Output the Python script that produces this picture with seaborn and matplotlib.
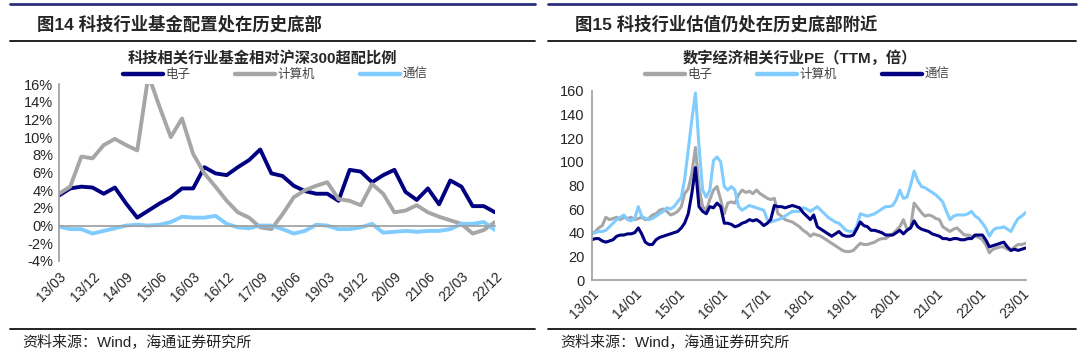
import numpy as np
import pandas as pd
import seaborn as sns
import matplotlib.pyplot as plt
from matplotlib.lines import Line2D

# ---- data: left chart (quarterly, 13/03 .. 22/12)
quarters = pd.period_range("2013Q1", "2022Q4", freq="Q")
q_labels = [f"{p.year % 100:02d}/{p.quarter * 3:02d}" for p in quarters]
elec_over = [3.4, 4.2, 4.4, 4.3, 3.6, 4.3, 2.5, 0.9, 1.7, 2.5,
             3.2, 4.2, 4.2, 6.6, 5.9, 5.7, 6.6, 7.4, 8.6, 5.9,
             5.6, 4.5, 3.9, 3.6, 3.6, 2.8, 6.3, 6.1, 4.9, 5.7,
             6.3, 3.8, 2.9, 4.2, 2.4, 5.1, 4.4, 2.2, 2.2, 1.5]
comp_over = [3.6, 4.4, 7.8, 7.6, 9.1, 9.8, 9.1, 8.5, 17.0, 13.4,
             10.0, 12.1, 8.1, 5.9, 4.4, 2.8, 1.5, 0.9, -0.2, -0.4,
             1.3, 3.2, 4.0, 4.5, 4.9, 3.0, 2.8, 2.3, 4.7, 3.6,
             1.5, 1.7, 2.3, 1.5, 1.0, 0.6, 0.2, -0.9, -0.5, 0.4]
tele_over = [-0.1, -0.4, -0.4, -0.9, -0.6, -0.3, 0.0, 0.1, 0.0, 0.1,
             0.4, 1.0, 0.9, 0.9, 1.1, 0.2, -0.2, -0.3, 0.0, 0.0,
             -0.4, -0.9, -0.6, 0.1, 0.0, -0.4, -0.4, -0.2, 0.2, -0.8,
             -0.7, -0.6, -0.7, -0.6, -0.6, -0.4, 0.2, 0.2, 0.4, -0.5]

# ---- data: right chart (monthly PE TTM, 2013-01 .. 2023-02)
months = pd.date_range("2013-01-01", periods=122, freq="MS")
elec_pe = [39, 41, 44, 46, 53, 51, 52, 53, 51, 53, 52, 53, 51, 52, 53, 51, 52, 55, 56, 59,
           60, 58, 55, 56, 58, 62, 73, 77, 90, 112, 78, 62, 59, 68, 76, 79, 68, 56, 65, 66,
           65, 72, 76, 74, 75, 73, 76, 73, 71, 69, 68, 69, 56, 54, 51, 50, 49, 47, 45, 42,
           40, 37, 39, 38, 37, 35, 33, 31, 29, 27, 25, 24, 24, 25, 28, 31, 30, 30, 31, 32,
           34, 35, 35, 37, 39, 42, 45, 51, 43, 44, 65, 61, 57, 54, 55, 54, 52, 51, 45, 43,
           41, 43, 44, 41, 38, 38, 37, 37, 36, 34, 30, 23, 26, 27, 28, 28, 26, 25, 28, 30,
           30, 31]
comp_pe = [39, 40, 41, 41, 42, 45, 48, 51, 53, 55, 51, 50, 52, 62, 54, 52, 51, 52, 54, 56,
           58, 61, 60, 62, 66, 70, 85, 110, 135, 158, 113, 76, 70, 76, 101, 104, 100, 79, 76, 79,
           76, 62, 59, 61, 63, 62, 61, 60, 59, 51, 49, 50, 51, 52, 54, 56, 58, 58, 58, 61,
           60, 58, 60, 62, 59, 56, 53, 51, 49, 48, 45, 42, 41, 41, 45, 56, 55, 54, 55, 56,
           58, 60, 62, 62, 63, 68, 76, 69, 70, 80, 92, 84, 79, 78, 76, 74, 72, 69, 66, 58,
           51, 54, 55, 55, 55, 56, 58, 54, 52, 48, 44, 37, 42, 44, 44, 45, 43, 41, 47, 52,
           54, 57]
tele_pe = [34, 35, 35, 33, 32, 33, 34, 37, 38, 38, 39, 39, 40, 44, 39, 32, 30, 30, 34, 36,
           37, 38, 39, 40, 41, 44, 48, 56, 73, 95, 62, 58, 56, 62, 61, 65, 62, 48, 48, 47,
           45, 46, 48, 49, 51, 50, 51, 49, 46, 48, 51, 63, 62, 62, 61, 62, 63, 62, 61, 57,
           54, 51, 55, 45, 43, 41, 39, 37, 39, 41, 38, 37, 37, 38, 43, 49, 46, 45, 42, 42,
           41, 40, 38, 38, 38, 40, 42, 39, 42, 44, 50, 45, 43, 42, 41, 39, 38, 37, 35, 35,
           34, 35, 35, 34, 34, 35, 35, 38, 38, 38, 34, 28, 29, 30, 31, 32, 28, 25, 26, 25,
           26, 27]

series = ["电子", "计算机", "通信"]
NAVY, GREY, LBLUE = "#000080", "#A6A6A6", "#80CCFF"
AXC = "#A0A0A0"

sns.set_theme(style="white")
plt.rcParams["font.family"] = ["Liberation Sans", "Noto Sans CJK SC", "DejaVu Sans"]

W, H = 1080, 359
fig = plt.figure(figsize=(W / 100, H / 100), dpi=100)


def fx(px):
    return px / W


def fy(py):
    return 1 - py / H


def hline(x0, x1, y, color, lw):
    fig.add_artist(Line2D([fx(x0), fx(x1)], [fy(y), fy(y)], color=color, lw=lw,
                          transform=fig.transFigure))


# frames / headers for both panels
for x0, x1, head, sub, cx in [(10, 535, "图14 科技行业基金配置处在历史底部",
                               "科技相关行业基金相对沪深300超配比例", 262),
                              (548, 1076, "图15 科技行业估值仍处在历史底部附近",
                               "数字经济相关行业PE（TTM，倍）", 800)]:
    hline(x0, x1, 4, "#2B2F7E", 2.0)
    hline(x0, x1, 41, "#111111", 1.3)
    hline(x0, x1, 329, "#111111", 1.3)
    fig.text(fx(x0 + 27), fy(24), head, fontsize=12.5, fontweight="bold", va="center", ha="left")
    fig.text(fx(cx), fy(58), sub, fontsize=11, fontweight="bold", va="center", ha="center")
    fig.text(fx(x0 + 12), fy(343), "资料来源：Wind，海通证券研究所", fontsize=10.8,
             va="center", ha="left", color="#222222")

# ---- left chart
axl = fig.add_axes([fx(59), fy(261), (495 - 59) / W, (261 - 84) / H])
dfl = pd.DataFrame({"q": list(range(len(quarters))) * 3,
                    "val": elec_over + comp_over + tele_over,
                    "s": [s for s in series for _ in quarters]})
sns.lineplot(data=dfl, x="q", y="val", hue="s", hue_order=series,
             palette=[NAVY, GREY, LBLUE], lw=2.8, ax=axl, legend=False)
axl.set_xlim(0, len(quarters) - 1)
axl.set_ylim(-4, 16)
axl.set_yticks(np.arange(-4, 17, 2))
axl.set_yticklabels([f"{v}%" for v in range(-4, 17, 2)])
axl.set_xlabel("")
axl.set_ylabel("")
for s in ["top", "right"]:
    axl.spines[s].set_visible(False)
axl.spines["left"].set_color(AXC)
axl.spines["bottom"].set_color(AXC)
axl.spines["bottom"].set_position(("data", 0))
axl.set_xticks(range(0, len(quarters), 3))
axl.tick_params(axis="x", direction="in", length=3, color=AXC, labelbottom=False)
axl.tick_params(axis="y", direction="out", length=3, color=AXC, labelsize=10.5, pad=1)
sec = axl.secondary_xaxis("bottom")
sec.set_xticks(range(0, len(quarters), 3),
               [q_labels[i] for i in range(0, len(quarters), 3)],
               rotation=45, ha="right", rotation_mode="anchor", fontsize=10)
sec.tick_params(length=0, pad=6)
sec.spines["bottom"].set_visible(False)
hl = [Line2D([], [], color=c, lw=3.2) for c in [NAVY, GREY, LBLUE]]
axl.legend(hl, series, loc="center", bbox_to_anchor=(fx(275), fy(75)),
           bbox_transform=fig.transFigure, ncol=3, frameon=False, fontsize=9,
           handlelength=3.2, handletextpad=0.2, columnspacing=3.6,
           labelcolor="#444444")

# ---- right chart
axr = fig.add_axes([fx(591.7), fy(280), (1026 - 591.7) / W, (280 - 90.7) / H])
dfr = pd.DataFrame({"d": list(months) * 3,
                    "val": elec_pe + comp_pe + tele_pe,
                    "s": [s for s in series for _ in months]})
sns.lineplot(data=dfr, x="d", y="val", hue="s", hue_order=series,
             palette=[GREY, LBLUE, NAVY], lw=2.2, ax=axr, legend=False)
axr.set_xlim(pd.Timestamp("2013-01-01"), pd.Timestamp("2023-02-06"))
axr.set_ylim(0, 160)
axr.set_yticks(range(0, 161, 20))
yrs = pd.date_range("2013-01-01", "2023-01-01", freq="YS")
axr.set_xticks(yrs)
axr.set_xticklabels([d.strftime("%y/%m") for d in yrs], rotation=45, ha="right",
                    rotation_mode="anchor", fontsize=10)
axr.set_xlabel("")
axr.set_ylabel("")
for s in ["top", "right"]:
    axr.spines[s].set_visible(False)
axr.spines["left"].set_color(AXC)
axr.spines["bottom"].set_color(AXC)
axr.tick_params(axis="both", direction="out", length=3, color=AXC, pad=2)
axr.tick_params(axis="y", labelsize=10.5)
hr = [Line2D([], [], color=c, lw=3.2) for c in [GREY, LBLUE, NAVY]]
axr.legend(hr, series, loc="center", bbox_to_anchor=(fx(797), fy(75)),
           bbox_transform=fig.transFigure, ncol=3, frameon=False, fontsize=9,
           handlelength=3.2, handletextpad=0.2, columnspacing=3.6,
           labelcolor="#444444")

fig.savefig("out.png", dpi=100, facecolor="white")
